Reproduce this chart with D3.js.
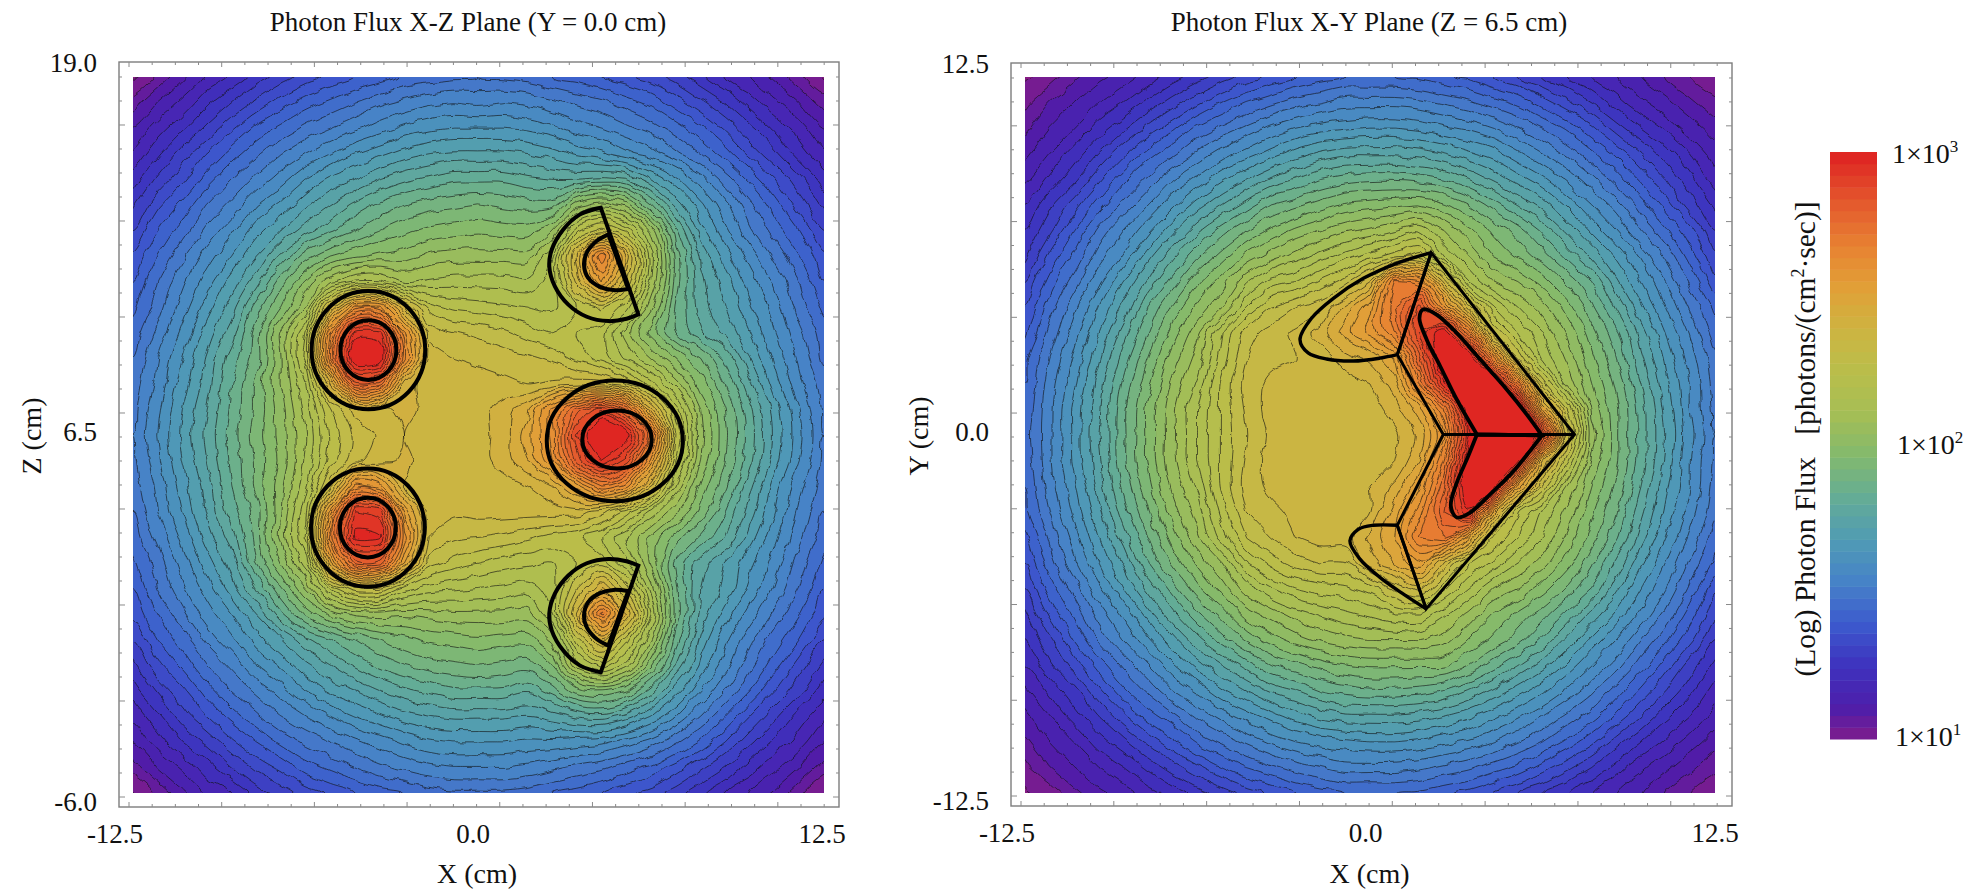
<!DOCTYPE html>
<html>
<head>
<meta charset="utf-8">
<script src="https://cdn.jsdelivr.net/npm/d3@7"></script>
<style>
  html, body { margin: 0; background: #fff; }
  text { font-family: "Liberation Serif", serif; fill: #111; white-space: pre; }
</style>
</head>
<body>
<svg id="chart" width="1982" height="889"></svg>
<script>
// log10(flux) * 100. Rows run top to bottom, columns left to right.
const fluxXZ = [
[99,105,111,117,121,126,130,134,137,140,142,145,146,147,148,147,146,144,142,140,137,134,130,125,120,116,111,105,99],
[106,112,117,123,128,133,138,142,145,148,151,153,155,156,155,156,155,153,151,149,146,143,138,133,128,122,117,112,106],
[112,118,123,129,135,141,145,149,152,155,158,161,163,164,164,164,163,161,158,156,153,150,146,141,135,129,123,118,112],
[117,123,130,136,142,147,152,156,160,164,167,170,172,173,173,173,172,170,167,165,161,158,153,148,142,135,129,122,117],
[122,129,135,142,148,153,158,164,169,172,176,179,181,183,183,183,181,180,180,181,180,172,165,158,150,143,136,129,122],
[127,135,141,148,153,160,165,171,176,181,185,188,190,191,192,191,190,190,202,207,202,188,175,165,157,149,142,134,127],
[132,140,146,153,159,166,172,178,183,188,192,195,197,198,199,198,198,204,223,230,223,207,185,170,161,153,146,140,132],
[137,144,151,158,164,172,181,190,196,199,201,202,205,206,206,206,206,216,242,268,242,214,190,175,166,158,151,144,137],
[140,148,155,162,170,178,190,201,211,217,217,212,213,214,214,214,213,218,238,256,236,212,190,177,170,162,155,148,140],
[143,150,158,166,174,186,196,208,238,260,260,240,226,223,222,221,220,219,224,229,222,205,188,178,172,165,158,150,143],
[146,153,161,170,178,190,205,220,264,294,294,260,235,232,231,229,226,224,224,222,210,198,188,181,175,168,160,153,146],
[148,156,164,173,182,190,204,222,268,302,300,264,238,236,235,234,233,231,227,222,215,208,200,192,183,172,163,155,147],
[150,157,166,174,184,193,204,216,245,278,275,243,236,237,238,237,236,237,238,238,232,222,210,198,188,177,166,157,150],
[151,159,168,176,185,193,202,214,228,238,238,242,238,238,238,242,247,262,278,288,274,245,222,204,192,181,170,160,151],
[152,160,169,177,186,194,202,212,225,233,237,240,238,237,238,242,250,262,288,308,300,272,228,205,193,182,171,161,152],
[151,159,168,176,185,193,201,213,226,235,238,241,238,238,238,242,248,260,282,296,285,258,224,204,192,181,170,160,151],
[150,157,166,174,184,193,203,215,235,262,258,240,237,238,238,238,240,244,255,268,262,240,215,199,189,177,166,157,150],
[148,156,164,173,182,190,204,219,258,292,290,254,237,237,238,238,238,238,238,234,226,215,205,195,184,174,164,155,148],
[146,153,161,170,178,190,205,221,266,298,297,262,236,233,232,231,229,227,225,220,212,203,194,187,180,170,161,153,146],
[143,150,158,166,174,188,200,214,252,278,278,252,230,226,224,222,221,220,224,226,217,203,187,178,172,165,158,150,143],
[140,148,155,162,170,180,192,204,222,232,232,222,218,217,216,215,214,218,232,244,230,210,189,176,171,163,155,148,140],
[137,144,151,158,164,172,183,193,201,205,206,205,206,207,207,207,206,216,242,270,244,216,190,175,166,158,151,144,137],
[132,140,146,153,159,166,172,179,184,188,192,195,197,198,199,198,198,205,226,242,226,208,186,171,161,153,146,140,132],
[127,135,141,148,153,160,165,171,176,181,185,188,190,191,192,191,190,196,215,222,214,197,180,167,158,149,142,134,127],
[122,129,135,142,148,153,158,164,169,172,176,179,181,183,183,183,181,186,194,196,192,181,170,160,152,144,136,129,122],
[117,123,130,136,142,147,152,156,160,164,167,170,172,173,173,173,172,174,177,178,174,168,160,152,144,136,129,122,117],
[112,118,124,129,135,140,145,149,152,155,158,161,163,164,164,164,163,163,162,161,158,154,149,143,136,129,123,118,112],
[106,112,117,122,128,133,137,142,145,148,151,153,155,156,156,156,155,153,151,149,146,143,138,133,128,122,117,112,106],
[99,105,111,117,120,126,130,134,137,140,142,144,146,147,147,147,146,144,142,140,137,134,130,125,120,116,111,105,99]
];

const fluxXY = [
[99,102,107,111,114,118,122,126,130,134,137,140,142,144,144,144,143,141,139,136,132,128,124,120,116,112,108,104,101],
[103,108,112,116,120,125,130,135,140,144,147,150,152,154,154,154,153,151,149,146,143,138,133,128,122,117,113,109,105],
[107,112,116,122,127,133,139,145,149,153,157,160,162,163,164,164,163,161,159,156,152,148,143,137,130,124,119,114,110],
[111,116,122,128,135,142,147,153,158,162,166,170,173,175,175,175,174,172,169,166,161,156,151,145,139,132,126,120,114],
[115,121,127,135,143,149,156,161,167,172,177,180,184,186,187,187,186,184,180,175,170,165,159,153,146,139,132,125,118],
[120,127,134,142,149,156,163,170,176,182,188,191,194,197,198,199,200,197,192,186,180,174,167,160,154,146,138,130,123],
[124,131,140,149,156,163,171,179,186,192,197,201,204,207,209,212,215,208,201,195,190,183,175,167,160,152,145,137,128],
[127,137,145,154,161,170,179,187,194,201,206,210,214,218,222,226,230,216,208,200,195,190,183,175,167,159,151,142,133],
[132,142,150,159,168,177,186,195,202,211,218,220,225,230,240,268,265,240,216,208,204,198,191,184,173,164,156,147,137],
[136,146,155,164,173,184,193,201,208,220,228,232,235,245,255,272,285,262,238,220,212,206,198,189,179,169,160,151,143],
[139,149,158,168,178,188,198,207,220,230,234,237,242,250,258,268,288,302,270,232,220,212,203,194,185,174,164,155,146],
[143,152,161,171,182,192,202,210,222,232,235,236,238,242,245,252,278,305,305,268,232,215,207,197,188,177,167,158,149],
[144,154,163,174,185,195,205,213,225,234,237,238,237,238,240,246,268,295,308,308,270,230,211,200,191,180,169,160,150],
[145,155,165,175,187,197,207,216,225,233,238,238,238,237,238,242,250,268,302,310,308,255,228,203,193,182,171,160,151],
[146,155,165,176,187,197,207,216,225,232,237,237,236,236,236,239,245,260,295,310,310,292,236,206,193,182,172,161,152],
[145,155,165,175,187,197,207,216,225,233,238,238,236,236,238,240,248,268,302,308,298,245,226,203,193,182,171,160,151],
[144,154,163,174,185,195,205,213,225,234,237,238,238,238,240,245,255,275,305,300,255,232,212,200,191,180,169,160,150],
[143,152,161,171,182,192,202,210,222,232,235,237,238,239,240,250,262,280,295,250,225,215,207,197,188,177,167,158,149],
[139,149,158,168,178,188,198,207,218,228,232,236,238,238,245,252,268,272,255,228,220,212,203,194,185,174,164,155,146],
[136,146,155,164,173,184,193,201,208,220,226,230,232,232,242,248,255,240,225,219,212,206,198,189,179,169,160,151,143],
[132,142,150,159,168,177,186,195,202,210,216,220,222,223,226,233,238,225,216,208,204,198,191,184,173,164,156,147,137],
[127,137,145,154,161,170,179,187,194,202,206,210,213,215,217,220,220,213,207,200,195,190,183,175,167,159,151,142,133],
[124,131,140,149,156,163,171,179,186,193,198,202,205,207,208,208,208,206,200,195,190,183,175,167,160,152,145,137,128],
[120,127,134,142,149,156,163,170,176,182,188,191,194,196,197,197,197,197,192,186,180,174,167,160,154,146,138,130,123],
[115,121,127,135,143,149,156,161,167,172,177,180,184,186,187,187,186,184,180,175,170,165,159,153,146,139,132,125,118],
[111,116,122,128,135,142,147,153,158,162,166,170,173,175,175,175,174,172,169,165,161,156,151,146,139,132,125,120,114],
[107,112,116,122,127,133,139,145,149,153,157,160,162,163,164,164,163,161,159,156,152,148,143,137,130,124,119,114,110],
[103,108,112,116,120,125,130,135,140,144,147,150,152,154,154,154,153,151,149,146,143,138,133,128,122,117,113,109,105],
[99,102,107,111,114,118,122,126,130,134,137,140,142,144,144,144,143,141,139,136,132,128,124,120,116,112,108,104,101]
];

// Colour bar stops: log10(flux) -> colour
const stopLevels = [0.98, 1.04, 1.106, 1.249, 1.392, 1.535, 1.678, 1.821, 1.964, 2.107, 2.25, 2.393, 2.536, 2.68, 2.823, 3];
const stopColors = ["#861c84", "#6e1c98", "#4e1eaa", "#3e32be", "#3c5acd", "#4682c8", "#509bb4", "#64ac96", "#82b96e", "#a5be55", "#b9be4b", "#cdb441", "#e1a037", "#e88232", "#e45a2d", "#de2022"];

// Detector outlines in cm (x, z) for the X-Z plane
const circlesXZ = [
  [-3.95, 9.41, 2.03, 2.04],
  [-3.95, 9.41, 1.0, 1.03],
  [-3.97, 3.29, 2.03, 2.04],
  [-3.97, 3.29, 1.0, 1.03],
  [4.85, 6.28, 2.43, 2.08],
  [4.93, 6.33, 1.24, 1.0]
];
const arcTopOuter = [[4.35,14.32],[3.61,14.09],[3.01,13.57],[2.6,12.88],[2.51,12.3],[2.71,11.61],[3.19,10.98],[3.85,10.56],[4.62,10.41],[5.27,10.49],[5.69,10.64]];
const arcTopInner = [[4.62,13.4],[4.2,13.17],[3.85,12.77],[3.75,12.36],[3.9,11.9],[4.32,11.59],[4.8,11.48],[5.33,11.52]];
const arcBottomOuter = [[4.35,-1.7],[3.61,-1.47],[3.01,-0.95],[2.6,-0.26],[2.51,0.32],[2.71,1.01],[3.19,1.64],[3.85,2.06],[4.62,2.21],[5.27,2.13],[5.69,1.98]];
const arcBottomInner = [[4.62,-0.78],[4.2,-0.55],[3.85,-0.15],[3.75,0.26],[3.9,0.72],[4.32,1.03],[4.8,1.14],[5.33,1.1]];

// Outlines in cm (x, y) for the X-Y plane
const kiteEdge = [[2.13,6.29],[7.24,0],[1.95,-6.03],[0.92,-3.14],[2.56,0],[0.92,2.76]];
const kiteSpokes = [[[0.92,2.76],[2.13,6.29]], [[0.92,-3.14],[1.95,-6.03]], [[2.56,0],[7.24,0]]];
const lobeUpper = [[2.13,6.29],[0.9,5.92],[-0.29,5.4],[-1.36,4.71],[-2.14,4.02],[-2.55,3.28],[-2.26,2.82],[-1.6,2.61],[-0.65,2.54],[0.3,2.64],[0.92,2.76]];
const lobeLower = [[0.92,-3.14],[0.06,-3.14],[-0.47,-3.28],[-0.77,-3.68],[-0.41,-4.31],[0.3,-4.94],[1.14,-5.52],[1.95,-6.03]];
const coreUpper = [[3.76,0],[3.04,1.21],[2.45,2.36],[1.97,3.28],[1.71,4.02],[1.85,4.33],[2.33,4.14],[3.04,3.51],[3.88,2.59],[4.83,1.55],[5.54,0.69],[6.08,-0.03]];
const coreLower = [[3.76,0],[3.4,-0.86],[3.04,-1.67],[2.83,-2.47],[3.04,-2.87],[3.52,-2.7],[4.23,-2.07],[5.06,-1.27],[6.08,-0.03]];

const xTickLabels = [-12.5, 0, 12.5];
const zTickLabels = [-6, 6.5, 19];
const yTickLabels = [-12.5, 0, 12.5];
const tickStep = 0.8276;

const svg = d3.select("#chart");

const levels = d3.range(100, 300, 4);
const color = d3.scaleLinear().domain(stopLevels).range(stopColors);
const bandColor = level => color(Math.min(3, (level + 2) / 100));

// Slight roughness of the Monte Carlo contours
const rough = svg.append("defs").append("filter").attr("id", "rough")
  .attr("filterUnits", "userSpaceOnUse")
  .attr("x", 0).attr("y", 0).attr("width", 1982).attr("height", 889);
rough.append("feTurbulence").attr("type", "fractalNoise").attr("baseFrequency", 0.07).attr("numOctaves", 2).attr("seed", 4);
rough.append("feDisplacementMap").attr("in", "SourceGraphic").attr("scale", 7)
  .attr("xChannelSelector", "R").attr("yChannelSelector", "G");

function panel(opts) {
  const { frame, area, xDomain, yDomain, flux, title, xLabel, yLabel, yTicks, yFormatNudge } = opts;
  const g = svg.append("g");

  const x = d3.scaleLinear().domain(xDomain).range([frame.x0 + 10, frame.x1 - 10]);
  const y = d3.scaleLinear().domain(yDomain).range([frame.y1 - 10, frame.y0 + 10]);

  // Frame and inward ticks
  g.append("rect")
    .attr("x", frame.x0).attr("y", frame.y0)
    .attr("width", frame.x1 - frame.x0).attr("height", frame.y1 - frame.y0)
    .attr("fill", "none").attr("stroke", "#7d7d7d").attr("stroke-width", 1.4);

  const tickRow = domain => d3.range(0, 31).map(k => domain[0] + k * tickStep);
  const ticks = g.append("g").attr("stroke", "#8a8a8a").attr("stroke-width", 1);
  tickRow(xDomain).forEach((v, k) => {
    const len = k % 4 === 0 ? 5 : 3;
    ticks.append("line").attr("x1", x(v)).attr("x2", x(v)).attr("y1", frame.y1).attr("y2", frame.y1 - len);
    ticks.append("line").attr("x1", x(v)).attr("x2", x(v)).attr("y1", frame.y0).attr("y2", frame.y0 + len);
  });
  tickRow(yDomain).forEach((v, k) => {
    const len = k % 4 === 0 ? 6 : 3;
    ticks.append("line").attr("y1", y(v)).attr("y2", y(v)).attr("x1", frame.x0).attr("x2", frame.x0 + len);
    ticks.append("line").attr("y1", y(v)).attr("y2", y(v)).attr("x1", frame.x1).attr("x2", frame.x1 - len);
  });

  // Filled contour bands, clipped to the plotted area
  const clipId = "clip" + frame.x0;
  svg.append("clipPath").attr("id", clipId).append("rect")
    .attr("x", area.x0).attr("y", area.y0)
    .attr("width", area.x1 - area.x0).attr("height", area.y1 - area.y0);

  const nx = flux[0].length, ny = flux.length;
  const gx = d3.scaleLinear().domain([0.5, nx - 0.5]).range([area.x0, area.x1]);
  const gy = d3.scaleLinear().domain([0.5, ny - 0.5]).range([area.y0, area.y1]);
  const ring = d3.line().x(p => gx(p[0])).y(p => gy(p[1])).curve(d3.curveCatmullRomClosed.alpha(0.5));
  const contourPath = d => d.coordinates
    .map(poly => poly.map(r => ring(r.slice(0, -1))).join(""))
    .join("");
  const contours = d3.contours().size([nx, ny]).thresholds(levels)(flux.flat());

  const clip = g.append("g").attr("clip-path", `url(#${clipId})`);
  const map = clip.append("g").attr("filter", "url(#rough)");
  map.append("rect")
    .attr("x", area.x0 - 20).attr("y", area.y0 - 20)
    .attr("width", area.x1 - area.x0 + 40).attr("height", area.y1 - area.y0 + 40)
    .attr("fill", color(0.98));
  map.selectAll("path.band").data(contours).join("path")
    .attr("class", "band")
    .attr("d", contourPath)
    .attr("fill-rule", "evenodd")
    .attr("fill", d => bandColor(d.value));
  map.selectAll("path.iso").data(contours).join("path")
    .attr("class", "iso")
    .attr("d", contourPath)
    .attr("fill", "none")
    .attr("stroke", "#111")
    .attr("stroke-opacity", 0.62)
    .attr("stroke-width", 1);

  // Tick labels
  const fmt = d => d3.format(".1f")(d).replace("\u2212", "-");
  g.append("g").selectAll("text").data(xTickLabels).join("text")
    .attr("x", (d, i) => x(d) + [-14, -6, -7][i])
    .attr("y", frame.y1 + 36)
    .attr("text-anchor", "middle")
    .attr("font-size", 27)
    .text(fmt);
  g.append("g").selectAll("text").data(yTicks).join("text")
    .attr("x", frame.x0 - 22)
    .attr("y", (d, i) => y(d) + yFormatNudge[i])
    .attr("text-anchor", "end")
    .attr("font-size", 27)
    .text(fmt);

  g.append("text").attr("x", opts.titleX).attr("y", 31)
    .attr("text-anchor", "middle").attr("font-size", 27).text(title);
  g.append("text").attr("x", (frame.x0 + frame.x1) / 2 - 2).attr("y", 883)
    .attr("text-anchor", "middle").attr("font-size", 28).text(xLabel);
  g.append("text")
    .attr("transform", `translate(${opts.yLabelX},436) rotate(-90)`)
    .attr("text-anchor", "middle").attr("font-size", 28).text(yLabel);

  return { g, x, y };
}

const left = panel({
  frame: { x0: 119, x1: 839, y0: 62, y1: 807 },
  area: { x0: 133, x1: 824, y0: 77, y1: 793 },
  xDomain: [-12.5, 12.5], yDomain: [-6, 19],
  flux: fluxXZ,
  title: "Photon Flux X-Z Plane (Y = 0.0 cm)", titleX: 468,
  xLabel: "X (cm)", yLabel: "Z (cm)", yLabelX: 41,
  yTicks: zTickLabels, yFormatNudge: [14, 6, 0]
});

const right = panel({
  frame: { x0: 1011, x1: 1732, y0: 63, y1: 806 },
  area: { x0: 1025, x1: 1715, y0: 77, y1: 793 },
  xDomain: [-12.5, 12.5], yDomain: [-12.5, 12.5],
  flux: fluxXY,
  title: "Photon Flux X-Y Plane (Z = 6.5 cm)", titleX: 1369,
  xLabel: "X (cm)", yLabel: "Y (cm)", yLabelX: 928,
  yTicks: yTickLabels, yFormatNudge: [14, 6, 0]
});

// Detector outlines, left
const leftLine = d3.line().x(d => left.x(d[0])).y(d => left.y(d[1])).curve(d3.curveCatmullRom);
const leftMarks = left.g.append("g").attr("fill", "none").attr("stroke", "#000").attr("stroke-width", 4).attr("stroke-linejoin", "miter");
leftMarks.selectAll("ellipse").data(circlesXZ).join("ellipse")
  .attr("cx", d => left.x(d[0])).attr("cy", d => left.y(d[1]))
  .attr("rx", d => left.x(d[2]) - left.x(0)).attr("ry", d => left.y(0) - left.y(d[3]));
[arcTopOuter, arcTopInner, arcBottomOuter, arcBottomInner].forEach(arc => {
  leftMarks.append("path").attr("d", leftLine(arc) + "Z");
});

// Detector outlines, right
const rightCurve = d3.line().x(d => right.x(d[0])).y(d => right.y(d[1])).curve(d3.curveCatmullRom);
const rightLine = d3.line().x(d => right.x(d[0])).y(d => right.y(d[1]));
const rightMarks = right.g.append("g").attr("fill", "none").attr("stroke", "#000").attr("stroke-linejoin", "miter");
rightMarks.append("path").attr("d", rightLine(kiteEdge) + "Z").attr("stroke-width", 3);
kiteSpokes.forEach(s => rightMarks.append("path").attr("d", rightLine(s)).attr("stroke-width", 3));
[lobeUpper, lobeLower].forEach(c => rightMarks.append("path").attr("d", rightCurve(c)).attr("stroke-width", 3.4));
[coreUpper, coreLower].forEach(c => rightMarks.append("path").attr("d", rightCurve(c) + "Z").attr("stroke-width", 3.8));

// Colour bar
const barY = d3.scaleLinear().domain([1, 3]).range([739, 152]);
const bar = svg.append("g");
bar.selectAll("rect").data(levels).join("rect")
  .attr("x", 1830).attr("width", 47)
  .attr("y", d => barY((d + 4) / 100))
  .attr("height", d => barY(d / 100) - barY((d + 4) / 100) + 0.5)
  .attr("fill", bandColor);

const legendLabels = [[3, 3, 1892, 2], [2, 2, 1897, -1], [1, 1, 1895, -2]];
legendLabels.forEach(([v, exp, lx, nudge]) => {
  const t = bar.append("text").attr("x", lx).attr("y", barY(v) + nudge + 9).attr("font-size", 28);
  t.append("tspan").text("1×10");
  t.append("tspan").attr("font-size", 17).attr("dy", -11).text(exp);
});

const barTitle = bar.append("text")
  .attr("transform", "translate(1815,439) rotate(-90)")
  .attr("text-anchor", "middle").attr("font-size", 29.5);
barTitle.append("tspan").text("(Log) Photon Flux   [photons/(cm");
barTitle.append("tspan").attr("font-size", 18).attr("dy", -11).text("2");
barTitle.append("tspan").attr("dy", 11).text("·sec)]");
</script>
</body>
</html>
